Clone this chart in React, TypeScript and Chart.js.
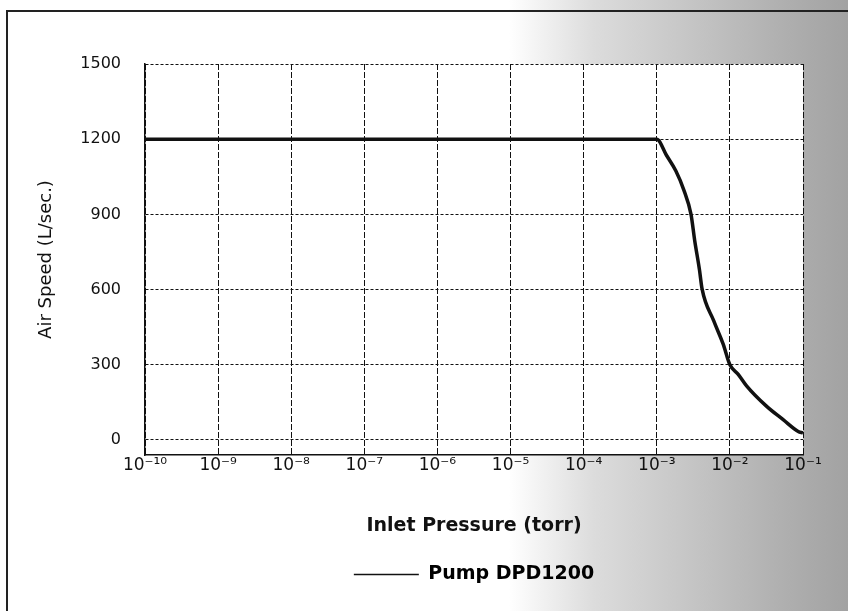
import React, { useEffect, useRef } from "react";
import { Chart, registerables } from "chart.js";

Chart.register(...registerables);

const pressure = [
  1e-10, 1e-9, 1e-8, 1e-7, 1e-6, 1e-5, 1e-4, 1e-3,
  1.35e-3, 1.82e-3, 2.34e-3, 2.94e-3, 3.3e-3, 3.84e-3, 4.15e-3,
  6.0e-3, 8.1e-3, 1e-2, 1.3e-2, 1.69e-2, 3.16e-2, 5.35e-2, 8.6e-2, 1e-1,
];
const airSpeed = [
  1200, 1200, 1200, 1200, 1200, 1200, 1200, 1200,
  1137, 1074, 998, 900, 796, 678, 605,
  476, 382, 300, 262, 216, 135, 81, 34, 28,
];
const xTickValues = [1e-10, 1e-9, 1e-8, 1e-7, 1e-6, 1e-5, 1e-4, 1e-3, 1e-2, 1e-1];
const xTickLabels = ["10⁻¹⁰", "10⁻⁹", "10⁻⁸", "10⁻⁷", "10⁻⁶", "10⁻⁵", "10⁻⁴", "10⁻³", "10⁻²", "10⁻¹"];
const yTickValues = [0, 300, 600, 900, 1200, 1500];
const seriesName = "Pump DPD1200";
const xTitle = "Inlet Pressure (torr)";
const yTitle = "Air Speed (L/sec.)";

const whitePlot = {
  id: "whitePlot",
  beforeDraw(chart: any) {
    const { ctx, chartArea } = chart;
    ctx.save();
    ctx.fillStyle = "#ffffff";
    ctx.fillRect(chartArea.left, chartArea.top, chartArea.right - chartArea.left, chartArea.bottom - chartArea.top);
    ctx.restore();
  },
};

export default function App() {
  const ref = useRef<HTMLCanvasElement | null>(null);
  useEffect(() => {
    if (!ref.current) return;
    const chart = new Chart(ref.current, {
      type: "line",
      data: {
        datasets: [
          {
            label: seriesName,
            data: pressure.map((p, i) => ({ x: p, y: airSpeed[i] })),
            borderColor: "#111111",
            borderWidth: 3.5,
            pointRadius: 0,
            cubicInterpolationMode: "monotone",
            fill: false,
          },
        ],
      },
      options: {
        animation: false,
        responsive: false,
        layout: { padding: { left: 36, top: 64, right: 45, bottom: 17 } },
        plugins: {
          tooltip: { enabled: false },
          legend: {
            position: "bottom",
            fullSize: false,
            labels: {
              color: "#111",
              font: { family: "DejaVu Sans", size: 19, weight: "bold" },
              usePointStyle: true,
              pointStyleWidth: 65,
              padding: 11,
              generateLabels: () => [
                {
                  text: seriesName,
                  fillStyle: "#111",
                  strokeStyle: "#111",
                  lineWidth: 1.5,
                  pointStyle: "line",
                  datasetIndex: 0,
                  hidden: false,
                },
              ],
            },
          },
        },
        scales: {
          x: {
            type: "logarithmic",
            min: 1e-10,
            max: 1e-1,
            afterBuildTicks: (s: any) => {
              s.ticks = xTickValues.map((v) => ({ value: v }));
            },
            afterFit: (s: any) => {
              s.height = 99;
            },
            ticks: {
              autoSkip: false,
              maxRotation: 0,
              padding: 0,
              color: "#111",
              font: { family: "DejaVu Sans", size: 17 },
              callback: (v: any) => {
                const i = xTickValues.findIndex((t) => Math.abs(Math.log10(t) - Math.log10(v)) < 1e-6);
                return i >= 0 ? xTickLabels[i] : "";
              },
            },
            grid: { color: "#111", lineWidth: 1, drawTicks: false },
            border: { display: true, color: "#111", width: 1.5, dash: [6, 2] },
            title: {
              display: true,
              text: xTitle,
              color: "#111",
              font: { family: "DejaVu Sans", size: 19, weight: "bold" },
              padding: { top: 0, bottom: 17 },
            },
          },
          y: {
            type: "linear",
            min: -60,
            max: 1500,
            afterBuildTicks: (s: any) => {
              s.ticks = yTickValues.map((v) => ({ value: v }));
            },
            afterFit: (s: any) => {
              s.width = 109;
            },
            ticks: {
              padding: 24,
              color: "#111",
              font: { family: "DejaVu Sans", size: 16 },
              callback: (v: any) => String(v),
            },
            grid: { color: "#111", lineWidth: 1, drawTicks: false },
            border: { display: true, color: "#111", width: 1.5, dash: [3, 2] },
            title: {
              display: true,
              text: yTitle,
              color: "#111",
              font: { family: "DejaVu Sans", size: 18 },
              padding: { top: 0, bottom: 0 },
            },
          },
        },
      },
      plugins: [whitePlot],
    } as any);
    return () => chart.destroy();
  }, []);

  return (
    <div
      style={{
        position: "fixed",
        left: 0,
        top: 0,
        width: 848,
        height: 611,
        overflow: "hidden",
        background:
          "linear-gradient(90deg, #ffffff 0%, #ffffff 60%, #dcdcdc 70%, #c4c4c4 82%, #b0b0b0 92%, #a2a2a2 100%)",
      }}
    >
      <div
        style={{
          position: "absolute",
          left: 6,
          top: 10,
          right: 0,
          bottom: 0,
          borderTop: "2px solid #222",
          borderLeft: "2px solid #222",
        }}
      />
      <canvas ref={ref} width={848} height={611} style={{ position: "absolute", left: 0, top: 0 }} />
    </div>
  );
}
